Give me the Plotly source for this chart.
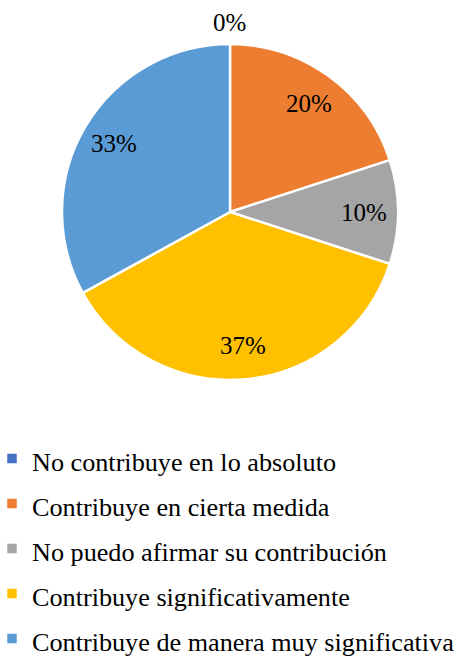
import math
import plotly.graph_objects as go

labels = ["No contribuye en lo absoluto", "Contribuye en cierta medida",
          "No puedo afirmar su contribución", "Contribuye significativamente",
          "Contribuye de manera muy significativa"]
values = [0, 20, 10, 37, 33]
colors = ["#4472C4", "#ED7D31", "#A5A5A5", "#FFC000", "#5B9BD5"]

W, H = 459, 657
CX, CY, R = 230, 212, 168  # pie centre / radius in px (layout)
LEG_TEXT = 26.2

legend_labels = [f"<span style='font-size:{LEG_TEXT}px'>{l}</span>" for l in labels]

fig = go.Figure(go.Pie(
    labels=legend_labels, values=values, sort=False, direction="clockwise", rotation=0,
    marker=dict(colors=colors, line=dict(color="white", width=2.5)),
    textinfo="none",
    domain=dict(x=[(CX - R) / W, (CX + R) / W], y=[1 - (CY + R) / H, 1 - (CY - R) / H]),
    hovertext=labels, hoverinfo="text+percent",
))

# percentage labels placed on each slice's mid-angle
total = sum(values)
cum = 0
for v in values:
    mid = (cum + v / 2) / total * 2 * math.pi
    cum += v
    r = 0.8 * R if v > 0 else 1.13 * R
    px = CX + r * math.sin(mid)
    py = CY - r * math.cos(mid)
    fig.add_annotation(x=px / W, y=1 - py / H, xref="paper", yref="paper",
                       text=f"{round(v / total * 100)}%", showarrow=False,
                       xanchor="center", yanchor="middle",
                       font=dict(family="Liberation Serif", size=25, color="black"))

fig.update_layout(
    width=W, height=H, margin=dict(l=0, r=0, t=0, b=0, autoexpand=False),
    paper_bgcolor="white", plot_bgcolor="white",
    font=dict(family="Liberation Serif", size=20, color="black"),
    showlegend=True,
    legend=dict(x=-8 / W, y=1 - 431 / H, xanchor="left", yanchor="top",
                bgcolor="rgba(0,0,0,0)", maxheight=1,
                font=dict(family="Liberation Serif", size=32.3, color="black")),
)
fig.write_html("out.html")
